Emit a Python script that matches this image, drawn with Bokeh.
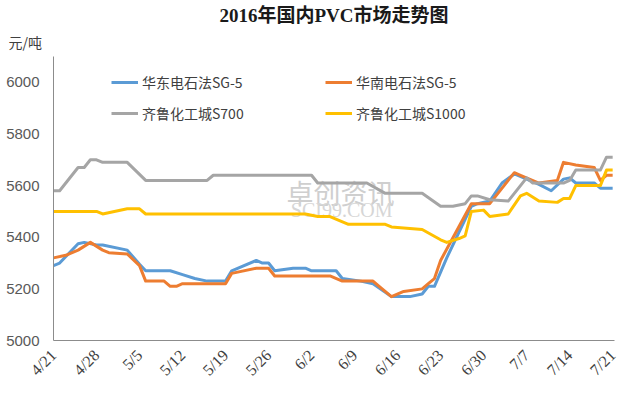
import pandas as pd
from bokeh.plotting import figure
from bokeh.models import Range1d, FixedTicker, Legend, LegendItem, Title, Label
from bokeh.embed import file_html
from bokeh.resources import INLINE

title_text = "2016年国内PVC市场走势图"
unit_text = "元/吨"

tick_labels = ["4/21", "4/28", "5/5", "5/12", "5/19", "5/26", "6/2", "6/9",
               "6/16", "6/23", "6/30", "7/7", "7/14", "7/21"]
y_ticks = [5000, 5200, 5400, 5600, 5800, 6000]

names = ["华东电石法SG-5", "华南电石法SG-5", "齐鲁化工城S700", "齐鲁化工城S1000"]
colors = ["#5B9BD5", "#ED7D31", "#A5A5A5", "#FFC000"]

east_dates = ["4/21", "4/22", "4/25", "4/26", "4/28", "4/29", "5/3", "5/5", "5/6", "5/10",
              "5/12", "5/14", "5/16", "5/19", "5/20", "5/24", "5/25", "5/26", "5/27", "5/30",
              "6/1", "6/2", "6/6", "6/7", "6/10", "6/12", "6/15", "6/18", "6/20", "6/21",
              "6/22", "6/24", "6/28", "6/29", "7/1", "7/3", "7/5", "7/7", "7/9", "7/11",
              "7/13", "7/14", "7/15", "7/18", "7/19", "7/21"]
east_vals = [5290, 5300, 5375, 5380, 5370, 5370, 5350, 5295, 5270, 5270,
             5255, 5240, 5230, 5230, 5270, 5310, 5300, 5300, 5270, 5280,
             5280, 5270, 5270, 5240, 5230, 5220, 5170, 5170, 5180, 5210,
             5210, 5320, 5520, 5530, 5540, 5610, 5645, 5625, 5605, 5580,
             5625, 5630, 5610, 5610, 5590, 5590]

south_dates = ["4/21", "4/23", "4/25", "4/27", "4/29", "4/30", "5/3", "5/5", "5/6", "5/9",
               "5/10", "5/11", "5/12", "5/19", "5/20", "5/24", "5/26", "5/27", "6/5", "6/7",
               "6/12", "6/13", "6/15", "6/17", "6/20", "6/21", "6/22", "6/23", "6/28", "7/1",
               "7/5", "7/6", "7/9", "7/12", "7/13", "7/15", "7/18", "7/19", "7/20", "7/21"]
south_vals = [5320, 5330, 5350, 5380, 5350, 5340, 5335, 5290, 5230, 5230,
              5210, 5210, 5220, 5220, 5260, 5280, 5280, 5250, 5250, 5230,
              5230, 5210, 5170, 5190, 5200, 5220, 5240, 5310, 5530, 5530,
              5650, 5640, 5610, 5620, 5690, 5680, 5670, 5620, 5640, 5640]

s700_dates = ["4/21", "4/22", "4/25", "4/26", "4/27", "4/28", "4/29", "5/3", "5/6", "5/16",
              "5/17", "6/2", "6/3", "6/11", "6/14", "6/20", "6/23", "6/25", "6/27", "6/28",
              "6/29", "7/1", "7/4", "7/7", "7/8", "7/13", "7/14", "7/15", "7/19", "7/20",
              "7/21"]
s700_vals = [5580, 5580, 5670, 5670, 5700, 5700, 5690, 5690, 5620, 5620,
             5640, 5640, 5610, 5610, 5570, 5570, 5520, 5520, 5530, 5560,
             5560, 5545, 5540, 5630, 5610, 5610, 5620, 5660, 5660, 5710,
             5710]

s1000_dates = ["4/21", "4/28", "4/29", "5/3", "5/5", "5/6", "6/1", "6/3", "6/5", "6/8",
               "6/14", "6/15", "6/20", "6/23", "6/24", "6/26", "6/27", "6/28", "6/30", "7/1",
               "7/4", "7/6", "7/7", "7/9", "7/12", "7/13", "7/14", "7/15", "7/19", "7/20",
               "7/21"]
s1000_vals = [5500, 5500, 5490, 5510, 5510, 5490, 5490, 5480, 5480, 5450,
              5450, 5440, 5430, 5390, 5380, 5395, 5405, 5500, 5505, 5480,
              5490, 5560, 5570, 5540, 5535, 5550, 5550, 5600, 5600, 5660,
              5660]

start = pd.Timestamp("2016-04-21")


def to_days(ds):
    return [(pd.to_datetime("2016/" + s, format="%Y/%m/%d") - start).days for s in ds]


tick_pos = to_days(tick_labels)

p = figure(width=640, height=394, output_backend="svg", toolbar_location=None,
           x_range=Range1d(0, 91.3), y_range=Range1d(5000, 6100),
           min_border_left=53, min_border_right=26, min_border_bottom=54, min_border_top=56)
p.outline_line_color = None
p.grid.grid_line_color = None
p.background_fill_color = "white"
p.border_fill_color = "white"

p.title.text = title_text
p.title.align = "center"
p.title.text_font = "'Liberation Serif', 'Noto Sans CJK SC'"
p.title.text_font_size = "19px"
p.title.text_font_style = "bold"
p.title.text_color = "#1a1a1a"
p.title.offset = -13
p.title.standoff = 0

unit = Title(text=unit_text, align="left", offset=-45, standoff=9,
             text_font="Noto Sans CJK SC", text_font_size="14px",
             text_font_style="normal", text_color="#404040")
p.add_layout(unit, "above")

# axes
p.xaxis.ticker = FixedTicker(ticks=tick_pos)
p.xaxis.major_label_overrides = {t: l for t, l in zip(tick_pos, tick_labels)}
p.xaxis.major_label_orientation = 0.785
p.yaxis.ticker = FixedTicker(ticks=y_ticks)
for ax in (p.xaxis, p.yaxis):
    ax.axis_line_color = "#8c8c8c"
    ax.axis_line_width = 1
    ax.major_tick_line_color = None
    ax.minor_tick_line_color = None
    ax.major_tick_out = 0
    ax.major_tick_in = 0
p.yaxis.major_label_text_font = "Liberation Sans"
p.yaxis.major_label_text_font_size = "15px"
p.yaxis.major_label_text_color = "#595959"
p.yaxis.major_label_standoff = 14
p.xaxis.major_label_text_font = "Liberation Serif"
p.xaxis.major_label_text_font_size = "16px"
p.xaxis.major_label_text_color = "#404040"
p.xaxis.major_label_standoff = 12

# watermark
p.add_layout(Label(x=46.7, y=5572, text="卓创资讯", text_align="center", text_baseline="middle",
                   text_font="Noto Sans CJK SC", text_font_size="27px", text_color="#cfcfcf",
                   level="underlay"))
p.add_layout(Label(x=46.9, y=5506, text="SCI99.COM", text_align="center", text_baseline="middle",
                   text_font="Liberation Serif", text_font_size="20px", text_color="#d6d6d6",
                   level="underlay"))

series = [(east_dates, east_vals), (south_dates, south_vals),
          (s700_dates, s700_vals), (s1000_dates, s1000_vals)]
items = []
for (ds, vs), name, c in zip(series, names, colors):
    r = p.line(to_days(ds), vs, line_color=c, line_width=3, line_join="round")
    items.append(LegendItem(label=name, renderers=[r]))

legend = Legend(items=items, location=(58, 217), orientation="horizontal", ncols=2,
                padding=0, margin=0, spacing=11, glyph_width=27, glyph_height=20,
                label_height=20, label_width=172, label_standoff=4,
                border_line_color=None, background_fill_alpha=0,
                label_text_font="Noto Sans CJK SC", label_text_font_size="14px",
                label_text_color="#404040")
p.add_layout(legend, "center")

open("out.html", "w").write(file_html(p, INLINE))
